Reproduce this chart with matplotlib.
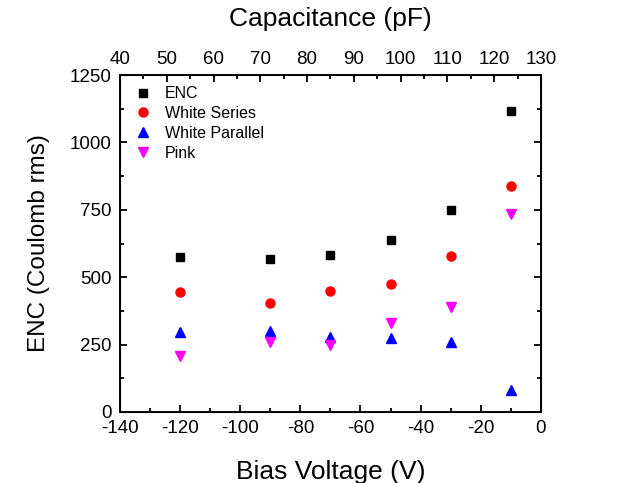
import matplotlib
matplotlib.use("Agg")
import matplotlib.pyplot as plt
from matplotlib.ticker import MultipleLocator

plt.rcParams['font.family'] = ['Liberation Sans', 'DejaVu Sans']
plt.rcParams['axes.unicode_minus'] = False

bias = [-120, -90, -70, -50, -30, -10]
enc = [574, 569, 583, 638, 748, 1116]
white_series = [445, 405, 448, 474, 580, 837]
white_parallel = [295, 299, 277, 274, 259, 82]
pink = [206, 261, 249, 329, 389, 733]

fig = plt.figure(figsize=(6.21, 4.83), dpi=100)
ax = fig.add_axes([0.1932, 0.147, 0.6778, 0.6977])

ms = 6.5
ax.plot(bias, enc, 's', color='black', ms=ms-0.8, label='ENC', linestyle='none')
ax.plot(bias, white_series, 'o', color='red', ms=ms, label='White Series', linestyle='none')
ax.plot(bias, white_parallel, '^', color='blue', ms=ms, label='White Parallel', linestyle='none')
ax.plot(bias, pink, 'v', color='magenta', ms=ms, label='Pink', linestyle='none')

ax.set_xlim(-140, 0)
ax.set_ylim(0, 1250)
ax.xaxis.set_major_locator(MultipleLocator(20))
ax.xaxis.set_minor_locator(MultipleLocator(10))
ax.yaxis.set_major_locator(MultipleLocator(250))
ax.yaxis.set_minor_locator(MultipleLocator(125))
ax.tick_params(which='both', direction='in', right=True, labelsize=13.5, width=1.3)
ax.tick_params(which='major', length=5, pad=6)
ax.tick_params(which='minor', length=3)
for s in ax.spines.values():
    s.set_linewidth(1.4)

ax.set_xlabel('Bias Voltage (V)', fontsize=19, labelpad=16.5)
ax.set_ylabel('ENC (Coulomb rms)', fontsize=17.5, labelpad=14)

ax2 = ax.twiny()
ax2.set_xlim(40, 130)
ax2.xaxis.set_major_locator(MultipleLocator(10))
ax2.xaxis.set_minor_locator(MultipleLocator(5))
ax2.tick_params(which='both', direction='in', labelsize=13.5, width=1.3)
ax2.tick_params(which='major', length=5, pad=5)
ax2.tick_params(which='minor', length=3)
ax2.set_xlabel('Capacitance (pF)', fontsize=19, labelpad=18)

leg = ax.legend(loc='upper left', frameon=False, fontsize=11.5, handletextpad=0.6,
                borderaxespad=0.3, labelspacing=0.3, handlelength=1.5,
                bbox_to_anchor=(0.0, 1.0))

fig.savefig('out.png', dpi=100)
